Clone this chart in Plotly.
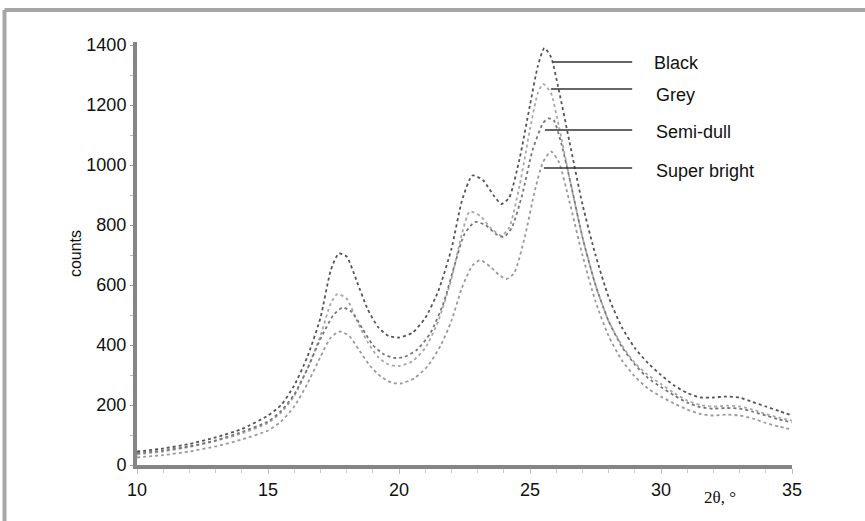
import plotly.graph_objects as go

# ---------------- data ----------------
series_names = ["Black", "Grey", "Semi-dull", "Super bright"]

black_x = [10, 11, 12, 13, 14, 15, 15.5, 16, 16.5, 17, 17.4, 17.7, 18.0, 18.4, 18.8, 19.2, 19.6, 20, 20.5, 21, 21.5, 22, 22.4, 22.8, 23.2, 23.6, 23.9, 24.2, 24.6, 25, 25.3, 25.55, 25.8, 26.1, 26.5, 27, 27.5, 28, 28.5, 29, 29.5, 30, 30.5, 31, 31.5, 32, 32.5, 33, 33.5, 34, 34.5, 35]
black_y = [45, 55, 70, 92, 120, 165, 200, 265, 360, 490, 650, 705, 695, 610, 520, 460, 430, 425, 440, 490, 580, 720, 880, 965, 950, 900, 870, 890, 1020, 1200, 1330, 1390, 1360, 1250, 1080, 870, 700, 560, 460, 390, 340, 300, 265, 240, 225, 225, 228, 225, 210, 195, 180, 165]

grey_x = [10, 11, 12, 13, 14, 15, 15.5, 16, 16.5, 17, 17.4, 17.65, 18.0, 18.4, 18.8, 19.2, 19.6, 20, 20.5, 21, 21.5, 22, 22.4, 22.7, 23.1, 23.5, 23.9, 24.2, 24.6, 25, 25.3, 25.5, 25.8, 26.1, 26.5, 27, 27.5, 28, 28.5, 29, 29.5, 30, 30.5, 31, 31.5, 32, 32.5, 33, 33.5, 34, 34.5, 35]
grey_y = [35, 45, 60, 80, 105, 140, 175, 230, 320, 430, 540, 570, 555, 480, 410, 360, 335, 330, 345, 390, 480, 620, 770, 845, 830, 790, 765, 790, 930, 1120, 1240, 1270, 1240, 1130, 960, 760, 600, 480, 400, 340, 300, 270, 240, 215, 200, 195, 198, 195, 185, 170, 158, 148]

semi_x = [10, 11, 12, 13, 14, 15, 15.5, 16, 16.5, 17, 17.5, 17.85, 18.2, 18.6, 19, 19.4, 19.8, 20.2, 20.7, 21.2, 21.7, 22.1, 22.5, 22.9, 23.3, 23.7, 24, 24.3, 24.7, 25.1, 25.5, 25.7, 25.9, 26.2, 26.6, 27, 27.5, 28, 28.5, 29, 29.5, 30, 30.5, 31, 31.5, 32, 32.5, 33, 33.5, 34, 34.5, 35]
semi_y = [40, 48, 62, 82, 110, 145, 180, 235, 320, 420, 500, 525, 510, 455, 400, 370, 357, 360, 385, 440, 540, 660, 770, 810, 800, 770, 760, 790, 900, 1050, 1140, 1155, 1150, 1070, 920, 760, 600, 480, 395, 335, 290, 260, 232, 208, 193, 188, 190, 188, 178, 165, 152, 142]

super_x = [10, 11, 12, 13, 14, 15, 15.5, 16, 16.5, 17, 17.4, 17.75, 18.1, 18.5, 18.9, 19.3, 19.7, 20.1, 20.6, 21.1, 21.6, 22, 22.4, 22.8, 23.1, 23.5, 23.8, 24.1, 24.4, 24.8, 25.2, 25.5, 25.8, 26.1, 26.5, 27, 27.5, 28, 28.5, 29, 29.5, 30, 30.5, 31, 31.5, 32, 32.5, 33, 33.5, 34, 34.5, 35]
super_y = [25, 33, 45, 62, 85, 115, 145, 195, 270, 360, 425, 445, 430, 380, 330, 295, 275, 272, 290, 330, 400, 480, 590, 665, 683, 660, 635, 620, 640, 760, 920, 1010, 1045, 1010, 880, 700, 545, 430, 350, 295, 255, 228, 205, 185, 170, 165, 168, 165, 155, 140, 128, 118]

x_tick_vals = [10, 15, 20, 25, 30, 35]
y_tick_vals = [0, 200, 400, 600, 800, 1000, 1200, 1400]

# ---------------- styling ----------------
curve_colors = ["#555555", "#a8a8a8", "#777777", "#9a9a9a"]
curves = [(black_x, black_y), (grey_x, grey_y), (semi_x, semi_y), (super_x, super_y)]

# label leader lines: (x start, x end, y level) and text anchor (x, y)
leader = [
    (25.88, 28.9, 1343, 29.66, 1340),
    (25.80, 28.9, 1253, 29.74, 1233),
    (25.57, 28.9, 1117, 29.74, 1110),
    (25.53, 28.9, 990, 29.74, 980),
]

fig = go.Figure()
for name, (xs, ys), col in zip(series_names, curves, curve_colors):
    fig.add_trace(go.Scatter(
        x=xs, y=ys, name=name, mode="lines",
        line=dict(color=col, width=1.8, dash="dot", shape="spline", smoothing=0.6),
        showlegend=False,
    ))

shapes = []
annotations = []
for name, (x0, x1, yl, tx, ty) in zip(series_names, leader):
    shapes.append(dict(type="line", xref="x", yref="y", x0=x0, x1=x1, y0=yl, y1=yl,
                       line=dict(color="#333333", width=1.5)))
    annotations.append(dict(x=tx, y=ty, xref="x", yref="y", text=name, showarrow=False,
                            xanchor="left", yanchor="middle",
                            font=dict(family="Liberation Sans, Arial", size=18, color="#111111")))

# frame around the picture (top and left edges)
shapes.append(dict(type="line", xref="paper", yref="paper", x0=-0.2023, x1=1.12, y0=1.0757, y1=1.0757,
                   line=dict(color="#a6a6a6", width=4)))
shapes.append(dict(type="line", xref="paper", yref="paper", x0=-0.2023, x1=-0.2023, y0=-0.14, y1=1.0757,
                   line=dict(color="#a6a6a6", width=4)))

annotations.append(dict(x=0.89, y=-0.078, xref="paper", yref="paper", text="2θ, °", showarrow=False,
                        xanchor="center", yanchor="middle",
                        font=dict(family="Liberation Serif, Times New Roman", size=17, color="#111111")))

fig.update_layout(
    width=865, height=521,
    margin=dict(l=137, r=73, t=42, b=56, autoexpand=False),
    paper_bgcolor="white", plot_bgcolor="white",
    shapes=shapes, annotations=annotations,
    font=dict(family="Liberation Sans, Arial", size=16, color="#111111"),
)
fig.update_xaxes(
    range=[10, 35], tickvals=x_tick_vals, ticks="outside", ticklen=5, tickwidth=1, tickcolor="#bbbbbb",
    minor=dict(dtick=1, ticks="outside", ticklen=4, tickcolor="#cccccc", tickwidth=1),
    showline=True, linecolor="#858585", linewidth=4, showgrid=False, zeroline=False,
    tickfont=dict(size=18), automargin=False,
)
fig.update_yaxes(
    range=[0, 1410], tickvals=y_tick_vals, ticks="outside", ticklen=3, tickwidth=1, tickcolor="#999999",
    minor=dict(dtick=100, ticks="outside", ticklen=3, tickcolor="#bbbbbb", tickwidth=1),
    showline=True, linecolor="#858585", linewidth=4, showgrid=False, zeroline=False,
    title=dict(text="counts", standoff=2, font=dict(size=16)),
    tickfont=dict(size=18), automargin=False,
)

fig.write_html("out.html", config={"displayModeBar": False},
               post_script="document.body.style.margin='0';")
